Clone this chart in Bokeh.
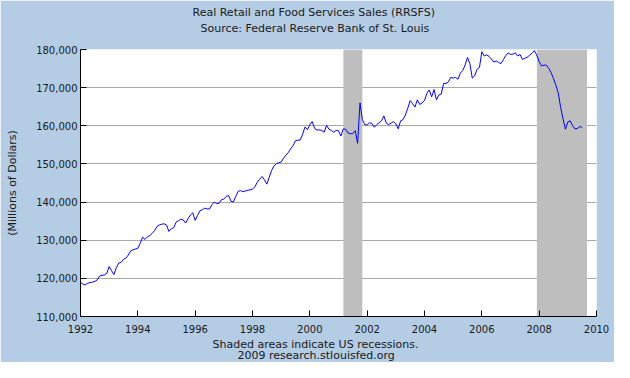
from bokeh.plotting import figure
from bokeh.models import (Range1d, FixedTicker, NumeralTickFormatter, BoxAnnotation,
                          Title, ColumnDataSource)
from bokeh.embed import file_html
from bokeh.resources import INLINE

# ---- data (monthly, millions of dollars) ----
first_year = 1992
sales_1992 = [119000, 118500, 118300, 118700, 118900, 119000, 119200, 119600, 120600, 120800, 120900, 121300]
sales_1993 = [123100, 122000, 121000, 122800, 124000, 124200, 125000, 125300, 126100, 127200, 127500, 127700]
sales_1994 = [127900, 129200, 130800, 130200, 130900, 131200, 131800, 132500, 133600, 134000, 134200, 134300]
sales_1995 = [134000, 132300, 133000, 133300, 134700, 135100, 135500, 135300, 134500, 135600, 136600, 137200]
sales_1996 = [135200, 136500, 137700, 138000, 138400, 138200, 138200, 139300, 140000, 139600, 139700, 140600]
sales_1997 = [140800, 141500, 141700, 140200, 140000, 141500, 142800, 143000, 142700, 142900, 143100, 143200]
sales_1998 = [143400, 144000, 145200, 146000, 146700, 145800, 144700, 146500, 148300, 149500, 150100, 150300]
sales_1999 = [150500, 151500, 152300, 153000, 154000, 154800, 156100, 156200, 156300, 157800, 159700, 159000]
sales_2000 = [160300, 161100, 159300, 158900, 158900, 158800, 158300, 160100, 159100, 158800, 158300, 158800]
sales_2001 = [158700, 157300, 159200, 159100, 158100, 157900, 158000, 158700, 155400, 166000, 161600, 160300]
sales_2002 = [160200, 160800, 160600, 159600, 160300, 160800, 161300, 162600, 160700, 160300, 160700, 161100]
sales_2003 = [160500, 159200, 161300, 161600, 162800, 164600, 166600, 165800, 164900, 166800, 165600, 166000]
sales_2004 = [166600, 168500, 169400, 167600, 169500, 166800, 168100, 168300, 171100, 171100, 171500, 172700]
sales_2005 = [172500, 172700, 172200, 173800, 174500, 175900, 177900, 176300, 172500, 173100, 174800, 175300]
sales_2006 = [179400, 178300, 178600, 178200, 177500, 176700, 177000, 176600, 176300, 177300, 178400, 179100]
sales_2007 = [178700, 178800, 179100, 178300, 178700, 177400, 177700, 178000, 178500, 179000, 179700, 178500]
sales_2008 = [176800, 175700, 175900, 175900, 175100, 173900, 172400, 170600, 168600, 164800, 161800, 159100]
sales_2009 = [161000, 161300, 160000, 159200, 159300, 159800, 159600]

recession_start = [2001.17, 2007.92]
recession_end = [2001.83, 2009.67]

x_ticks = [1992, 1994, 1996, 1998, 2000, 2002, 2004, 2006, 2008, 2010]
y_ticks = [110000, 120000, 130000, 140000, 150000, 160000, 170000, 180000]

title_lines = ["Real Retail and Food Services Sales (RRSFS)",
               "Source: Federal Reserve Bank of St. Louis"]
footer_lines = ["Shaded areas indicate US recessions.",
                "2009 research.stlouisfed.org"]
y_label = "(Millions of Dollars)"

# ---- build series ----
all_years = [sales_1992, sales_1993, sales_1994, sales_1995, sales_1996, sales_1997,
             sales_1998, sales_1999, sales_2000, sales_2001, sales_2002, sales_2003,
             sales_2004, sales_2005, sales_2006, sales_2007, sales_2008, sales_2009]
dates, values = [], []
for i, yr_vals in enumerate(all_years):
    for m, v in enumerate(yr_vals):
        dates.append(first_year + i + m / 12.0)
        values.append(v)
src = ColumnDataSource(dict(date=dates, sales=values))

BG = "#B4CCE4"
FONT = "DejaVu Sans"
TXT = "#1a1a1a"
W, H = 614, 362

p = figure(width=W, height=H, output_backend="svg", toolbar_location=None,
           x_range=Range1d(x_ticks[0], x_ticks[-1]),
           y_range=Range1d(y_ticks[0], y_ticks[-1]),
           min_border_left=80, min_border_right=18, min_border_top=49, min_border_bottom=46)
p.background_fill_color = "white"
p.border_fill_color = BG
p.outline_line_color = None

# recessions
for s, e in zip(recession_start, recession_end):
    p.add_layout(BoxAnnotation(left=s, right=e, fill_color="#BEBEBE", fill_alpha=1.0,
                               line_color=None, level="underlay"))

p.line("date", "sales", source=src, line_color="#0000FF", line_width=1)

# axes
p.xaxis.ticker = FixedTicker(ticks=x_ticks)
p.yaxis.ticker = FixedTicker(ticks=y_ticks)
p.yaxis.formatter = NumeralTickFormatter(format="0,0")
for ax in (p.xaxis[0], p.yaxis[0]):
    ax.axis_line_color = "black"
    ax.major_tick_line_color = "black"
    ax.major_tick_out = 0
    ax.major_tick_in = 6
    ax.minor_tick_line_color = None
    ax.major_label_text_font = FONT
    ax.major_label_text_font_size = "10px"
    ax.major_label_text_color = TXT
p.xaxis.major_label_standoff = 8
p.yaxis.major_label_standoff = 3
p.yaxis.axis_label = y_label
p.yaxis.axis_label_text_font = FONT
p.yaxis.axis_label_text_font_size = "11px"
p.yaxis.axis_label_text_font_style = "normal"
p.yaxis.axis_label_text_color = TXT
p.yaxis.axis_label_standoff = 14

p.xgrid.grid_line_color = None
p.ygrid.grid_line_color = "#A8A8A8"
p.ygrid.grid_line_width = 1

def make_title(txt, off, standoff):
    return Title(text=txt, align="left", offset=off, standoff=standoff,
                 text_font=FONT, text_font_size="11px", text_font_style="normal",
                 text_color=TXT)

# above: innermost first
p.add_layout(make_title(title_lines[1], 120, 30), "above")
p.add_layout(make_title(title_lines[0], 112, -28), "above")
# below: after the axis
p.add_layout(make_title(footer_lines[0], 132, 0), "below")
p.add_layout(make_title(footer_lines[1], 157, -8), "below")

open("out.html", "w").write(file_html(p, INLINE))
